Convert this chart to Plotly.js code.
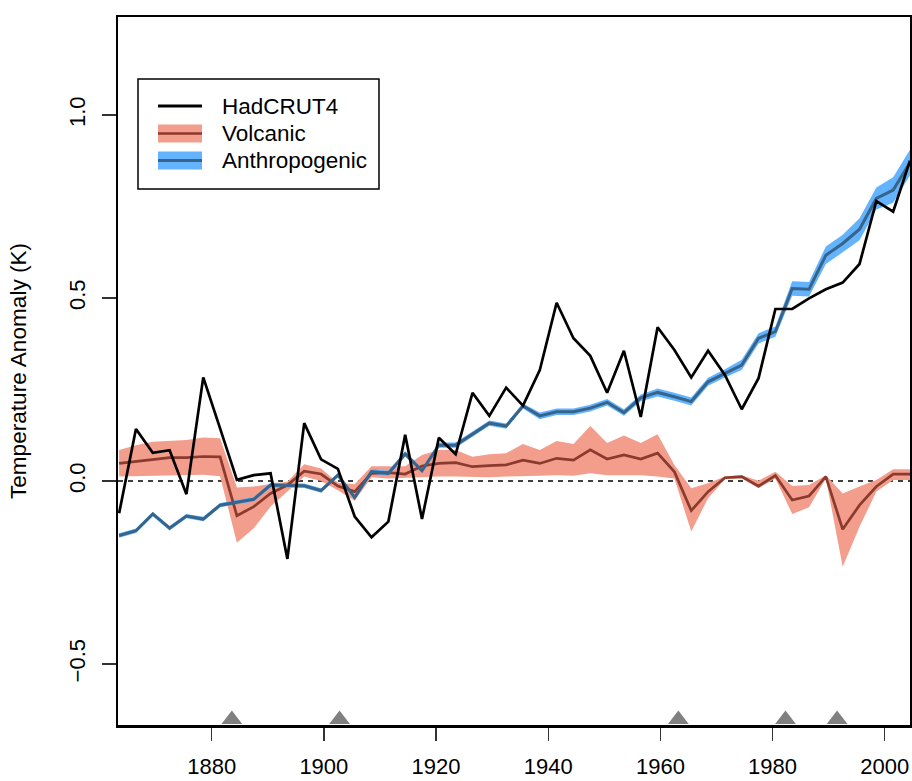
<!DOCTYPE html>
<html>
<head>
<meta charset="utf-8">
<script src="https://cdn.plot.ly/plotly-3.0.1.min.js"></script>
<style>html,body{margin:0;padding:0;background:#fff;}#chart{width:912px;height:781px;}</style>
</head>
<body>
<div id="chart"></div>
<script>
// ---- data ----
const years = [1863.5,1866.5,1869.5,1872.5,1875.5,1878.5,1881.5,1884.5,1887.5,1890.5,
  1893.5,1896.5,1899.5,1902.5,1905.5,1908.5,1911.5,1914.5,1917.5,1920.5,
  1923.5,1926.5,1929.5,1932.5,1935.5,1938.5,1941.5,1944.5,1947.5,1950.5,
  1953.5,1956.5,1959.5,1962.5,1965.5,1968.5,1971.5,1974.5,1977.5,1980.5,
  1983.5,1986.5,1989.5,1992.5,1995.5,1998.5,2001.5,2004.5];

const hadcrut4 = [-0.088,0.142,0.077,0.084,-0.036,0.283,0.144,0.003,0.016,0.021,
  -0.213,0.158,0.059,0.033,-0.097,-0.154,-0.111,0.126,-0.104,0.118,
  0.073,0.241,0.178,0.255,0.206,0.303,0.487,0.390,0.342,0.241,
  0.356,0.175,0.420,0.358,0.283,0.356,0.290,0.196,0.281,0.470,
  0.470,0.499,0.524,0.542,0.593,0.765,0.736,0.875];

const volcanic = [0.048,0.053,0.060,0.064,0.064,0.067,0.066,-0.095,-0.070,-0.034,
  -0.011,0.027,0.019,-0.014,-0.029,0.021,0.023,0.019,0.041,0.048,
  0.050,0.039,0.042,0.044,0.057,0.048,0.062,0.057,0.085,0.060,
  0.071,0.060,0.076,0.025,-0.081,-0.029,0.009,0.012,-0.014,0.015,
  -0.052,-0.041,0.012,-0.132,-0.066,-0.015,0.019,0.019];
const volcanicLo = [0.012,0.013,0.014,0.016,0.016,0.017,0.013,-0.169,-0.129,-0.070,
  -0.029,0.012,0.000,-0.025,-0.054,0.010,0.007,0.009,0.010,0.012,
  0.012,0.010,0.010,0.012,0.012,0.014,0.016,0.014,0.021,0.016,
  0.016,0.016,0.012,0.007,-0.138,-0.047,0.005,0.007,-0.020,0.007,
  -0.090,-0.072,0.007,-0.234,-0.125,-0.029,0.003,0.003];
const volcanicHi = [0.085,0.098,0.107,0.110,0.112,0.119,0.117,-0.018,-0.015,-0.008,
  -0.002,0.046,0.034,-0.005,-0.009,0.040,0.040,0.040,0.071,0.085,
  0.085,0.066,0.073,0.076,0.101,0.085,0.109,0.101,0.150,0.104,
  0.124,0.104,0.128,0.044,-0.020,-0.006,0.012,0.016,0.001,0.025,
  -0.014,-0.011,0.016,-0.034,-0.015,0.003,0.032,0.032];

const anthro = [-0.149,-0.136,-0.090,-0.129,-0.096,-0.104,-0.066,-0.058,-0.050,-0.011,
  -0.011,-0.013,-0.026,0.016,-0.045,0.026,0.021,0.074,0.028,0.098,
  0.098,0.128,0.158,0.150,0.205,0.178,0.189,0.189,0.199,0.215,
  0.187,0.227,0.242,0.230,0.217,0.271,0.294,0.317,0.390,0.408,
  0.526,0.524,0.617,0.649,0.688,0.772,0.795,0.870];
const anthroLo = [-0.155,-0.142,-0.096,-0.135,-0.102,-0.110,-0.072,-0.064,-0.056,-0.017,
  -0.017,-0.019,-0.032,0.010,-0.051,0.019,0.014,0.067,0.021,0.091,
  0.091,0.121,0.151,0.143,0.198,0.169,0.180,0.180,0.190,0.206,
  0.178,0.218,0.231,0.219,0.206,0.260,0.283,0.303,0.376,0.394,
  0.506,0.504,0.593,0.625,0.658,0.742,0.760,0.835];
const anthroHi = [-0.143,-0.130,-0.084,-0.123,-0.090,-0.098,-0.060,-0.052,-0.044,-0.005,
  -0.005,-0.007,-0.020,0.022,-0.039,0.033,0.028,0.081,0.035,0.105,
  0.105,0.135,0.165,0.157,0.212,0.187,0.198,0.198,0.208,0.224,
  0.196,0.236,0.253,0.241,0.228,0.282,0.305,0.331,0.404,0.422,
  0.546,0.544,0.641,0.673,0.718,0.802,0.830,0.905];

const eruptionYears = [1883.6, 1902.8, 1963.2, 1982.3, 1991.5];
const eruptionMarkY = [-0.652, -0.652, -0.652, -0.652, -0.652];

const xTicks = [1880, 1900, 1920, 1940, 1960, 1980, 2000];
const yTicks = [-0.5, 0, 0.5, 1.0];
const legendLabels = ["HadCRUT4", "Volcanic", "Anthropogenic"];

// ---- styles ----
const FONT = "Liberation Sans, Arial, Helvetica, sans-serif";
const salmon = "#F39D8D", volLine = "#8B3A2E";
const skyBlue = "#63B3FF", antLine = "#36648B";

const traces = [
  {x: years, y: volcanicLo, mode: "lines", line: {width: 0, color: salmon}, hoverinfo: "skip", showlegend: false},
  {x: years, y: volcanicHi, mode: "lines", line: {width: 0, color: salmon}, fill: "tonexty", fillcolor: salmon, hoverinfo: "skip", showlegend: false},
  {x: years, y: anthroLo, mode: "lines", line: {width: 0, color: skyBlue}, hoverinfo: "skip", showlegend: false},
  {x: years, y: anthroHi, mode: "lines", line: {width: 0, color: skyBlue}, fill: "tonexty", fillcolor: skyBlue, hoverinfo: "skip", showlegend: false},
  {x: years, y: volcanic, mode: "lines", line: {width: 2.7, color: volLine}, name: "Volcanic", showlegend: false},
  {x: years, y: anthro, mode: "lines", line: {width: 3, color: antLine}, name: "Anthropogenic", showlegend: false},
  {x: years, y: hadcrut4, mode: "lines", line: {width: 2.7, color: "#000"}, name: "HadCRUT4", showlegend: false},
  {x: eruptionYears, y: eruptionMarkY, mode: "markers", marker: {symbol: "triangle-up", size: 18, color: "#808080"}, cliponaxis: false, showlegend: false, hoverinfo: "skip"}
];

// plot area in pixels
const M = {l: 118, r: 2, t: 17, b: 56};
const PW = 912 - M.l - M.r, PH = 781 - M.t - M.b;
const px = x => (x - M.l) / PW;
const py = y => 1 - (y - M.t) / PH;

const shapes = [
  {type: "line", xref: "paper", yref: "y", x0: 0, x1: 1, y0: 0, y1: 0, layer: "below",
   line: {color: "#000", width: 1.4, dash: "5px,5px"}},
  // legend box
  {type: "rect", xref: "paper", yref: "paper", x0: px(138), x1: px(379), y0: py(79), y1: py(189),
   line: {color: "#000", width: 1.5}, fillcolor: "#fff", layer: "above"},
  // HadCRUT4 sample
  {type: "line", xref: "paper", yref: "paper", x0: px(158), x1: px(202), y0: py(106), y1: py(106),
   line: {color: "#000", width: 3}, layer: "above"},
  // Volcanic sample
  {type: "rect", xref: "paper", yref: "paper", x0: px(158), x1: px(202), y0: py(124.5), y1: py(142.5),
   line: {width: 0}, fillcolor: salmon, layer: "above"},
  {type: "line", xref: "paper", yref: "paper", x0: px(158), x1: px(202), y0: py(133.5), y1: py(133.5),
   line: {color: volLine, width: 2.7}, layer: "above"},
  // Anthropogenic sample
  {type: "rect", xref: "paper", yref: "paper", x0: px(158), x1: px(202), y0: py(151.5), y1: py(169.5),
   line: {width: 0}, fillcolor: skyBlue, layer: "above"},
  {type: "line", xref: "paper", yref: "paper", x0: px(158), x1: px(202), y0: py(160.5), y1: py(160.5),
   line: {color: antLine, width: 3}, layer: "above"}
];

const legendRowsY = [106, 133.5, 160.5];
const annotations = legendLabels.map((t, i) => ({
  text: t, xref: "paper", yref: "paper", x: px(220), y: py(legendRowsY[i]),
  xanchor: "left", yanchor: "middle", showarrow: false,
  font: {family: FONT, size: 22.5, color: "#000"}
}));

const layout = {
  width: 912, height: 781,
  margin: M,
  paper_bgcolor: "#fff", plot_bgcolor: "#fff",
  font: {family: FONT, size: 22, color: "#000"},
  showlegend: false,
  xaxis: {
    range: [1863.3, 2004.5], tickmode: "array", tickvals: xTicks, ticktext: xTicks.map(String),
    ticks: "outside", ticklen: 13, tickwidth: 1.4, tickcolor: "#333",
    showline: true, mirror: true, linewidth: 2.5, linecolor: "#000",
    showgrid: false, zeroline: false, ticklabelstandoff: 7,
    tickfont: {family: FONT, size: 22, color: "#000"}
  },
  yaxis: {
    range: [-0.6667, 1.2678], tickmode: "array", tickvals: yTicks, tickformat: ".1f",
    ticks: "outside", ticklen: 14, tickwidth: 1.4, tickcolor: "#333", tickangle: -90,
    showline: true, mirror: true, linewidth: 2.5, linecolor: "#000",
    showgrid: false, zeroline: false, ticklabelstandoff: 8,
    tickfont: {family: FONT, size: 22, color: "#000"},
    title: {text: "Temperature Anomaly (K)", standoff: 32, font: {family: FONT, size: 22.6, color: "#000"}}
  },
  shapes: shapes,
  annotations: annotations
};

Plotly.newPlot("chart", traces, layout, {displayModeBar: false, staticPlot: true});
</script>
</body>
</html>
